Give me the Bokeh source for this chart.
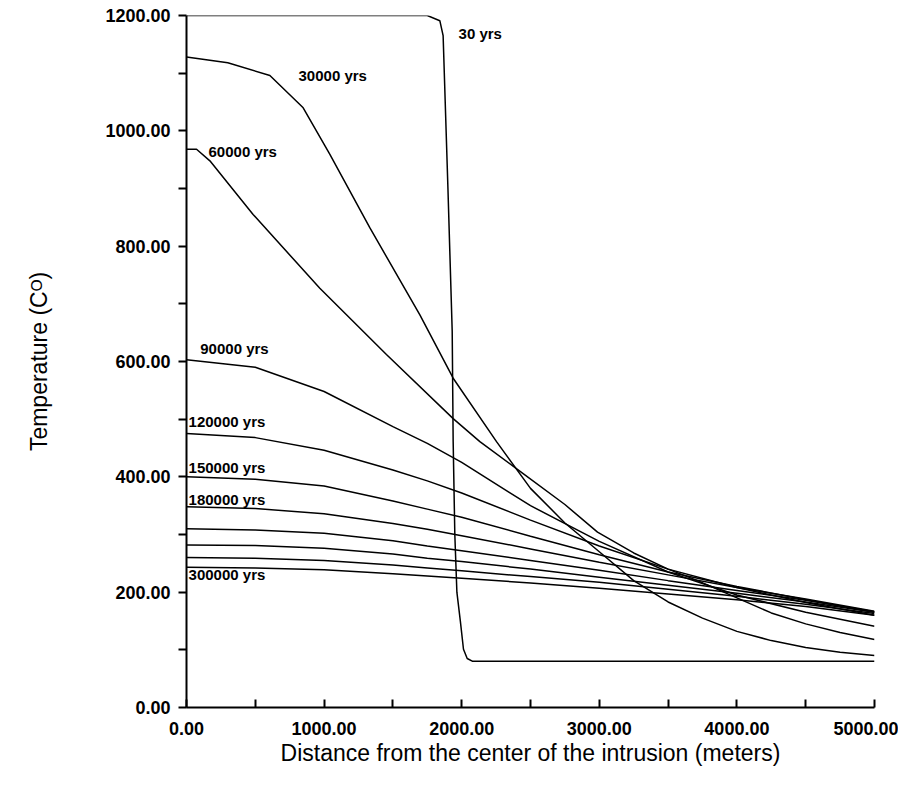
from bokeh.plotting import figure
from bokeh.models import Range1d, Label, FixedTicker, CustomJSTickFormatter
from bokeh.embed import file_html
from bokeh.resources import INLINE

# 30 yrs: almost a step at the intrusion edge
x_30 = [0, 1750, 1841, 1865, 1900, 1931, 1938, 1950, 1965, 1991, 2013, 2040, 2080, 5000]
t_30 = [1200, 1200, 1191, 1165, 900, 652, 461, 300, 200, 148, 101, 85, 80, 80]

x_30000 = [0, 300, 606, 848, 1042, 1332, 1696, 1938, 2253, 2500, 2750, 3000,
           3250, 3500, 3750, 4000, 4250, 4500, 4750, 5000]
t_30000 = [1128, 1118, 1096, 1040, 959, 832, 681, 571, 461, 380, 320, 270,
           220, 183, 155, 132, 116, 104, 96, 90]

x_60000 = [0, 73, 170, 484, 969, 1453, 1938, 2132, 2427, 2750, 2987, 3250,
           3500, 3714, 4000, 4250, 4500, 4750, 5000]
t_60000 = [968, 968, 948, 855, 727, 612, 501, 461, 409, 352, 304, 268,
           240, 220, 190, 164, 145, 130, 118]

x_late = [0, 500, 1000, 1500, 1750, 2000, 2500, 3000, 3500, 4000, 4500, 5000]
t_late = {
    "90000": [603, 590, 548, 487, 458, 425, 350, 288, 235, 195, 165, 141],
    "120000": [475, 468, 446, 412, 393, 372, 325, 280, 240, 208, 182, 160],
    "150000": [400, 396, 384, 358, 344, 330, 297, 265, 235, 210, 187, 165],
    "180000": [348, 345, 336, 319, 309, 298, 275, 252, 230, 208, 188, 167],
    "210000": [310, 308, 302, 289, 280, 272, 255, 238, 220, 203, 186, 166],
    "240000": [282, 281, 276, 266, 259, 253, 240, 226, 212, 198, 183, 165],
    "270000": [260, 259, 255, 247, 242, 237, 227, 217, 205, 193, 179, 163],
    "300000": [243, 242, 239, 232, 228, 224, 216, 207, 197, 187, 175, 160],
}

labels = [("30 yrs", 1977, 1169), ("30000 yrs", 814, 1096), ("60000 yrs", 160, 965),
          ("90000 yrs", 100, 623), ("120000 yrs", 15, 496), ("150000 yrs", 15, 417),
          ("180000 yrs", 15, 360), ("300000 yrs", 15, 230)]

FONT = "Liberation Sans"

p = figure(width=898, height=777, output_backend="svg", toolbar_location=None,
           x_range=Range1d(0, 5000), y_range=Range1d(0, 1200),
           min_border_left=186, min_border_right=24, min_border_top=15, min_border_bottom=70)
p.outline_line_color = None
p.xgrid.visible = False
p.ygrid.visible = False

p.line(x_30, t_30, line_color="black", line_width=1.5)
p.line(x_30000, t_30000, line_color="black", line_width=1.5)
p.line(x_60000, t_60000, line_color="black", line_width=1.5)
for k, t in t_late.items():
    p.line(x_late, t, line_color="black", line_width=1.5)

for txt, x, y in labels:
    p.add_layout(Label(x=x, y=y, text=txt, text_font=FONT, text_font_size="15px",
                       text_font_style="bold", text_color="black", text_baseline="middle"))

p.xaxis.ticker = FixedTicker(ticks=list(range(0, 5001, 500)))
p.xaxis.formatter = CustomJSTickFormatter(code="return tick % 1000 == 0 ? tick.toFixed(2) : '';")
p.yaxis.ticker = FixedTicker(ticks=list(range(0, 1201, 100)))
p.yaxis.formatter = CustomJSTickFormatter(code="return tick % 200 == 0 ? tick.toFixed(2) : '';")

for ax in (p.xaxis, p.yaxis):
    ax.axis_line_width = 2
    ax.major_tick_line_width = 2
    ax.minor_tick_line_color = None
    ax.major_label_text_font = FONT
    ax.major_label_text_font_size = "18px"
    ax.major_label_text_font_style = "bold"
    ax.major_label_text_color = "black"
    ax.axis_label_text_font = FONT
    ax.axis_label_text_font_size = "23px"
    ax.axis_label_text_font_style = "normal"
    ax.axis_label_text_color = "black"
p.xaxis.major_tick_in = 8
p.xaxis.major_tick_out = 0
p.xaxis.major_label_standoff = 14
p.yaxis.major_tick_in = 0
p.yaxis.major_tick_out = 8
p.yaxis.major_label_standoff = 8
p.xaxis.axis_label = "Distance from the center of the intrusion (meters)"
p.yaxis.axis_label = "Temperature (Cᴼ)"
p.xaxis.axis_label_standoff = 2
p.yaxis.axis_label_standoff = 50

open("out.html", "w").write(file_html(p, INLINE))
